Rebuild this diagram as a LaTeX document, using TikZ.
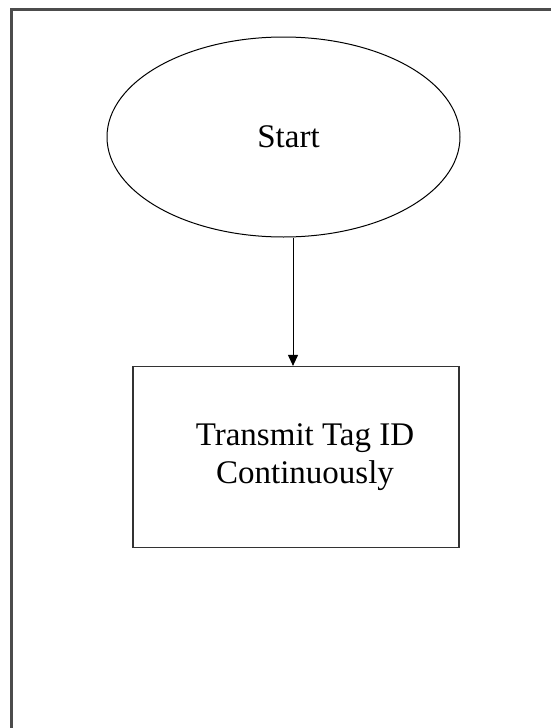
\documentclass[tikz,border=0pt]{standalone}
\usepackage{fontspec}
\setmainfont{Liberation Serif}
\usetikzlibrary{shapes.geometric,arrows.meta}
\begin{document}
\begin{tikzpicture}[x=1pt,y=-1pt,
  frameline/.style={draw=black!70, line width=2.2pt},
  startshape/.style={ellipse, draw=black, line width=1pt, minimum width=353pt, minimum height=200pt, inner sep=0pt, font=\fontsize{33}{38}\selectfont},
  taskbox/.style={rectangle, draw=black!80, line width=1.2pt, minimum width=326pt, minimum height=181pt, align=center, font=\fontsize{33}{38}\selectfont},
  flowarrow/.style={draw=black, line width=1pt, -{Triangle[width=10pt,length=11pt]}}]
\useasboundingbox (0,0) rectangle (551,728);
\fill[white] (0,0) rectangle (551,728);
\draw[frameline] (11.5,728) -- (11.5,9.5) -- (551,9.5);
\node[startshape] (start) at (283.5,137) {\hspace*{10pt}Start};
\node[taskbox] (task) at (296,457) {\hspace*{18pt}Transmit Tag ID\\\hspace*{18pt}Continuously};
\draw[flowarrow] ([xshift=9.5pt]start.south) -- ([xshift=-3pt]task.north);
\end{tikzpicture}
\end{document}
